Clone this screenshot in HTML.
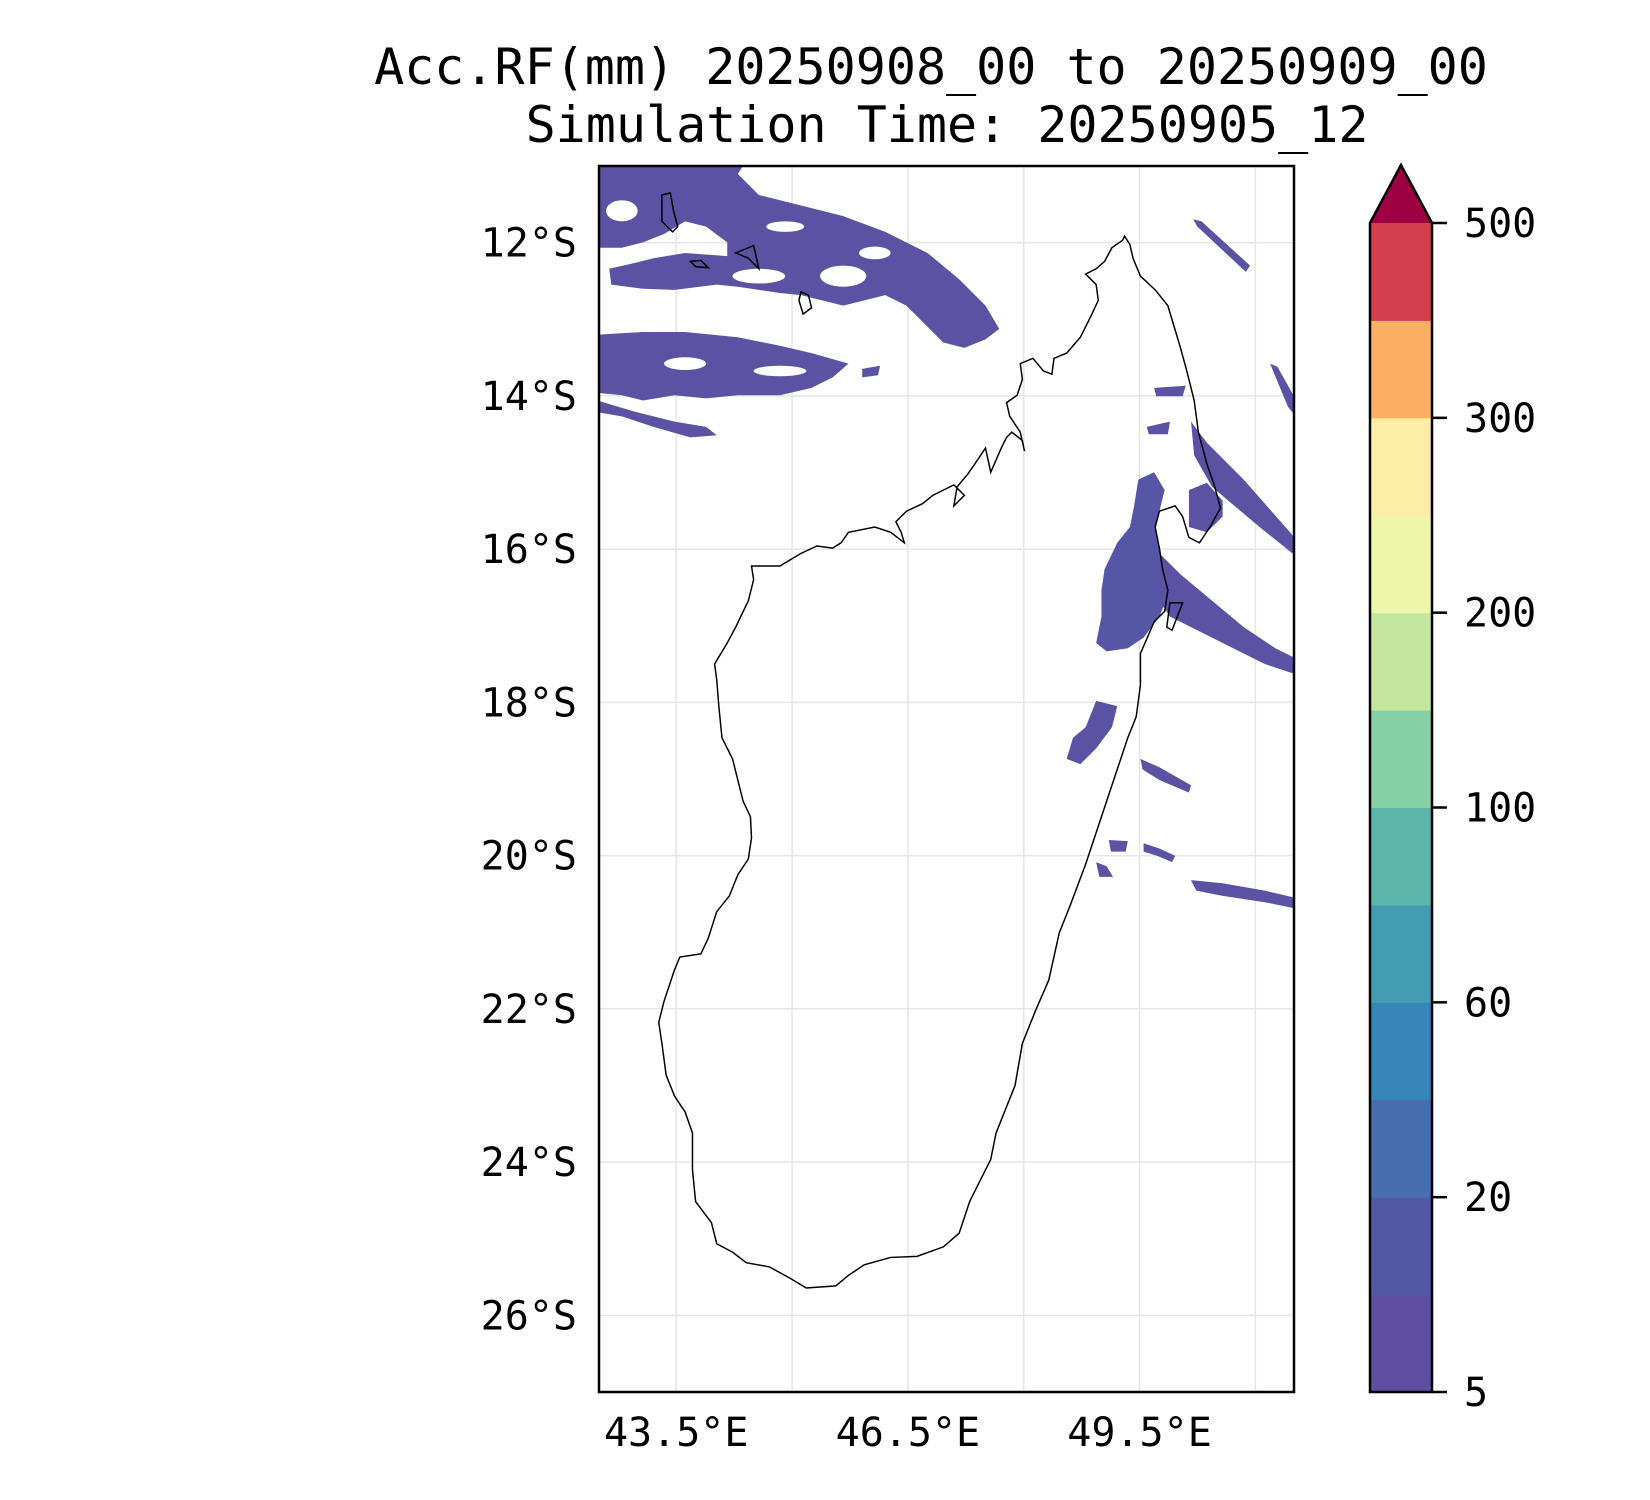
<!DOCTYPE html>
<html><head><meta charset="utf-8"><style>
html,body{margin:0;padding:0;background:#fff;}
svg{display:block;font-family:"DejaVu Sans Mono","Liberation Mono",monospace;}
</style></head><body>
<svg id="fig" width="1650" height="1500" viewBox="0 0 1650 1500">
<text x="931" y="84" font-size="50" text-anchor="middle">Acc.RF(mm) 20250908_00 to 20250909_00</text>
<text x="947" y="142" font-size="50" text-anchor="middle">Simulation Time: 20250905_12</text>
<defs><clipPath id="mapclip"><rect x="599" y="166" width="695" height="1226"/></clipPath></defs>
<g id="grid"></g>
<g clip-path="url(#mapclip)">
<g transform="scale(1.054)" fill="#5b52a3" stroke="none">
<polygon points="560,150 710,150 700,165 720,185 760,195 800,205 840,220 880,240 910,265 935,290 948,312 935,322 915,330 895,325 880,310 860,290 840,280 820,285 800,290 780,285 760,280 740,278 720,275 700,272 680,270 640,275 610,274 580,270 578,255 600,250 620,245 650,240 690,243 690,230 670,215 650,210 630,222 610,230 590,235 560,235"/>
<polygon points="560,318 610,315 650,315 700,320 740,328 770,335 805,345 790,358 770,368 740,375 700,375 670,378 640,375 610,380 590,375 560,372"/>
<polygon points="560,378 600,390 640,400 670,405 680,413 655,415 620,405 590,395 560,390"/>
<polygon points="818,350 835,347 833,356 818,358"/>
<polygon fill="#5557a6" points="1080,455 1095,448 1105,465 1100,485 1096,500 1100,520 1104,540 1108,565 1100,585 1085,605 1070,615 1050,618 1040,610 1045,585 1045,560 1048,540 1060,515 1072,500 1076,480"/>
<polygon points="1100,525 1120,545 1150,570 1180,595 1210,615 1230,625 1230,640 1200,630 1170,615 1140,600 1110,585 1100,570"/>
<polygon points="1128,465 1145,458 1160,475 1160,490 1145,505 1128,500"/>
<polygon points="1130,400 1145,420 1180,455 1230,512 1230,528 1195,500 1150,462 1133,432"/>
<polygon points="1132,208 1140,210 1186,252 1182,258 1136,215"/>
<polygon points="1205,345 1212,348 1230,380 1230,396 1222,386"/>
<polygon points="1040,665 1060,670 1055,690 1040,710 1025,725 1012,720 1018,700 1030,690"/>
<polygon points="1082,720 1100,728 1130,745 1128,752 1100,740 1084,730"/>
<polygon points="1130,835 1160,838 1200,845 1230,852 1230,862 1200,856 1160,850 1135,845"/>
<polygon points="1052,797 1070,798 1068,808 1054,808"/>
<polygon points="1040,818 1050,822 1056,832 1043,832"/>
<polygon points="1085,800 1100,805 1115,812 1112,818 1098,812 1085,808"/>
<polygon points="1095,368 1125,366 1122,376 1097,376"/>
<polygon points="1088,405 1110,400 1108,412 1090,412"/>
<g fill="#fff">
<ellipse cx="720" cy="262" rx="25" ry="7"/><ellipse cx="800" cy="262" rx="22" ry="10"/><ellipse cx="830" cy="240" rx="15" ry="6"/><ellipse cx="745" cy="215" rx="18" ry="5"/>
<ellipse cx="650" cy="345" rx="20" ry="6"/><ellipse cx="740" cy="352" rx="25" ry="5"/><ellipse cx="590" cy="200" rx="15" ry="10"/>
</g>
<path fill="none" stroke="#000" stroke-width="1.4" d="M1067,224 L1072,232 1075,245 1082,262 1096,275 1108,290 1114,310 1120,330 1126,352 1133,380 1137,410 1145,440 1152,460 1158,482 1148,500 1138,515 1128,510 1122,490 1115,480 1100,485 1096,500 1100,520 1103,540 1108,560 1105,580 1095,590 1082,620 1082,650 1078,680 1070,700 1060,730 1050,760 1040,790 1030,820 1015,860 1005,885 995,930 982,960 970,990 963,1030 955,1050 945,1075 940,1100 930,1120 920,1140 910,1170 895,1183 870,1192 845,1193 820,1200 805,1210 793,1220 765,1222 750,1213 730,1202 708,1198 695,1188 680,1180 675,1160 660,1140 657,1110 657,1075 650,1055 640,1040 632,1020 628,990 625,970 630,950 635,935 640,920 645,908 665,905 672,890 680,865 692,850 700,830 710,815 713,795 712,775 705,760 700,740 695,720 685,700 682,670 680,645 678,630 690,610 698,595 710,570 715,550 713,537 740,537 760,525 775,518 790,520 798,515 805,505 815,503 830,500 845,505 858,515 855,505 850,495 860,485 875,478 885,470 895,465 905,460 915,470 905,480 908,462 918,450 925,440 935,425 940,448 950,425 955,415 960,410 970,418 972,428 968,410 958,395 955,382 965,375 970,360 968,345 980,340 990,352 998,355 1000,340 1012,335 1025,320 1035,300 1042,285 1040,270 1030,260 1040,255 1048,248 1055,235 1065,228 Z"/>
<path fill="none" stroke="#000" stroke-width="1.4" d="M628,185 L636,183 639,200 643,215 638,220 628,210 Z M655,248 L665,247 672,254 660,253 Z M698,240 L715,233 720,255 710,245 Z M760,277 L767,280 770,292 762,298 758,285 Z M1110,572 L1122,572 1112,598 1107,595 Z"/>
</g>
</g>
<rect x="599" y="166" width="695" height="1226" fill="none" stroke="#000" stroke-width="2.5"/>
<g id="axes"></g>
<g id="cbar"></g>
<script>
const latTicks=[12,14,16,18,20,22,24,26];
const lonGrid=[43.5,45,46.5,48,49.5,51];
const lonLabels=[43.5,46.5,49.5];
const cbarLevels=[5,10,20,40,60,80,100,150,200,250,300,400,500];
const cbarColors=["#5e4fa2","#5358a6","#466eb0","#3686bc","#459db4","#5db6ab","#87cfa4","#c3e79e","#eef7a9","#feeda4","#fdb063","#d53e4f"];
const cbarTicks=[5,20,60,100,200,300,500];
const extendColor="#9e0142";
const NS="http://www.w3.org/2000/svg";
const lon0=42.5,lon1=51.5,lat0=11,lat1=27;
const X0=599,X1=1294,Y0=166,Y1=1392;
function xs(lon){return X0+(lon-lon0)/(lon1-lon0)*(X1-X0);}
function ys(lat){return Y0+(lat-lat0)/(lat1-lat0)*(Y1-Y0);}
function mk(tag,attrs,parent){const e=document.createElementNS(NS,tag);for(const k in attrs)e.setAttribute(k,attrs[k]);parent.appendChild(e);return e;}
const grid=document.getElementById('grid'),axes=document.getElementById('axes'),cb=document.getElementById('cbar');
latTicks.forEach(l=>{
 const g=mk('line',{x1:X0,x2:X1,y1:ys(l),y2:ys(l),stroke:'#e6e6e6','stroke-width':1.5},grid);
 
 
 const t=mk('text',{x:577,y:ys(l)+14,'font-size':40,'text-anchor':'end'},axes);
 t.textContent=l+'°S';
 
 
});
lonGrid.forEach(l=>{
 const g=mk('line',{x1:xs(l),x2:xs(l),y1:Y0,y2:Y1,stroke:'#e6e6e6','stroke-width':1.5},grid);
 
 
});
lonLabels.forEach(l=>{
 const t=mk('text',{x:xs(l),y:1446,'font-size':40,'text-anchor':'middle'},axes);
 t.textContent=l.toFixed(1)+'°E';
 
 
});
const CX0=1370,CX1=1432,CB0=1392,CB1=223,n=cbarColors.length;
function cy(v){const i=cbarLevels.indexOf(v);return CB0-i*(CB0-CB1)/n;}
cbarColors.forEach((c,i)=>{
 const r=mk('rect',{x:CX0,width:CX1-CX0,y:cy(cbarLevels[i+1]),height:cy(cbarLevels[i])-cy(cbarLevels[i+1])+0.5,fill:c},cb);
 
 
});
const tri=mk('polygon',{points:`${CX0},${CB1} ${(CX0+CX1)/2},165 ${CX1},${CB1}`,fill:extendColor},cb);


const out=mk('polygon',{points:`${CX0},${CB0} ${CX0},${CB1} ${(CX0+CX1)/2},165 ${CX1},${CB1} ${CX1},${CB0}`,fill:'none',stroke:'#000','stroke-width':2.5},cb);


cbarTicks.forEach(v=>{
 const y=cy(v);
 const tk=mk('line',{x1:CX1,x2:CX1+15,y1:y,y2:y,stroke:'#000','stroke-width':2.5},cb);
 
 
 const t=mk('text',{x:1464,y:y+14,'font-size':40},cb);
 t.textContent=v;
 
 
});
</script>
</svg>
</body></html>
